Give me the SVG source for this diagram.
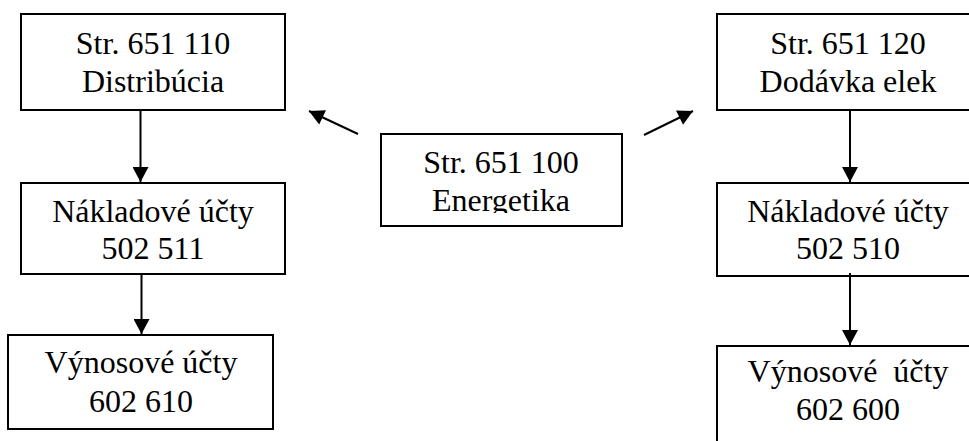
<svg xmlns="http://www.w3.org/2000/svg" width="969" height="441" viewBox="0 0 969 441">
<style>
.box{fill:#fff;stroke:#000;stroke-width:2}
.t{font-family:'Liberation Serif',Tinos,'Times New Roman','DejaVu Serif',serif;font-size:32px;fill:#000;text-anchor:middle}
.c{stroke:#000;stroke-width:2;fill:none;marker-end:url(#ah)}
</style>
<defs>
<marker id="ah" markerUnits="userSpaceOnUse" markerWidth="16" markerHeight="16" refX="15" refY="8" orient="auto" viewBox="0 0 15 16">
<path d="M0,0 L15,8 L0,16 Z" fill="#000"/>
</marker>
<clipPath id="cclip"><rect x="380" y="133" width="243" height="80"/></clipPath>
</defs>
<rect width="969" height="441" fill="#fff"/>
<g id="n1">
<rect class="box" x="21" y="14" width="264" height="96"/>
<text class="t" font-family="Liberation Serif, serif" x="153" y="54">Str. 651 110</text>
<text class="t" font-family="Liberation Serif, serif" x="153" y="92">Distribúcia</text>
</g>
<g id="n2">
<rect class="box" x="21" y="183" width="264" height="91"/>
<text class="t" x="153" y="222">Nákladové účty</text>
<text class="t" x="153" y="259">502 511</text>
</g>
<g id="n3">
<rect class="box" x="8" y="335" width="265" height="94"/>
<text class="t" x="141" y="373">Výnosové účty</text>
<text class="t" x="141" y="412">602 610</text>
</g>
<g id="n0">
<rect class="box" x="381" y="134" width="241" height="92"/>
<g clip-path="url(#cclip)">
<text class="t" x="501" y="173">Str. 651 100</text>
<text class="t" x="501" y="211">Energetika</text>
</g>
</g>
<g id="n4">
<rect class="box" x="717" y="14" width="264" height="96"/>
<text class="t" x="848" y="54">Str. 651 120</text>
<text class="t" x="848" y="92">Dodávka elek</text>
</g>
<g id="n5">
<rect class="box" x="717" y="183" width="264" height="93"/>
<text class="t" x="848" y="222">Nákladové účty</text>
<text class="t" x="848" y="259">502 510</text>
</g>
<g id="n6">
<rect class="box" x="717" y="346" width="264" height="110"/>
<text class="t" x="848" y="382" xml:space="preserve">Výnosové  účty</text>
<text class="t" x="848" y="420">602 600</text>
</g>
<g id="connectors">
<line class="c" x1="140.5" y1="110" x2="140.5" y2="182"/>
<line class="c" x1="141.5" y1="274" x2="141.5" y2="334"/>
<line class="c" x1="850" y1="110" x2="850" y2="182"/>
<line class="c" x1="850" y1="273" x2="850" y2="345"/>
<line class="c" x1="358" y1="134" x2="309" y2="111"/>
<line class="c" x1="644" y1="135" x2="693" y2="111"/>
</g>
</svg>
